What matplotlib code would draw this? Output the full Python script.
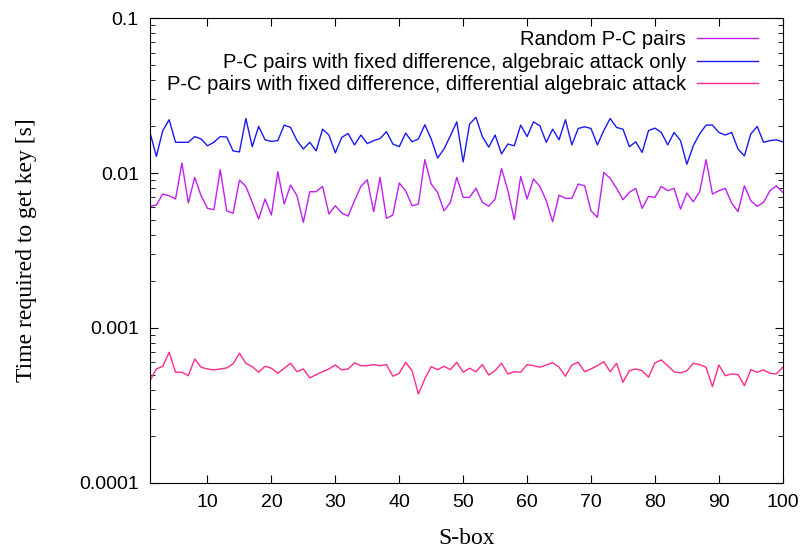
import numpy as np
import matplotlib.pyplot as plt

# S-box index
sbox = np.arange(1, 101)

# Zeit in Sekunden
t_random = [0.00610, 0.00622, 0.00732, 0.00714, 0.00680, 0.0116, 0.00641, 0.00938, 0.00714, 0.00592,
            0.00580, 0.0105, 0.00571, 0.00550, 0.00901, 0.00821, 0.00647, 0.00505, 0.00680, 0.00536,
            0.0102, 0.00631, 0.00837, 0.00714, 0.00481, 0.00758, 0.00758, 0.00821, 0.00544, 0.00615,
            0.00552, 0.00528, 0.00663, 0.00821, 0.00905, 0.00563, 0.00938, 0.00510, 0.00536, 0.00862,
            0.00769, 0.00615, 0.00631, 0.0122, 0.00849, 0.00751, 0.00571, 0.00647, 0.00938, 0.00697,
            0.00697, 0.00797, 0.00647, 0.00610, 0.00680, 0.0107, 0.00769, 0.00500, 0.00952, 0.00680,
            0.00915, 0.00821, 0.00663, 0.00485, 0.00720, 0.00687, 0.00687, 0.00849, 0.00828, 0.00571,
            0.00518, 0.0101, 0.00924, 0.00797, 0.00673, 0.00751, 0.00797, 0.00592, 0.00707, 0.00697,
            0.00821, 0.00769, 0.00797, 0.00586, 0.00743, 0.00653, 0.00758, 0.0122, 0.00732, 0.00769,
            0.00797, 0.00641, 0.00563, 0.00828, 0.00663, 0.00610, 0.00647, 0.00769, 0.00828, 0.00751]

t_fixed = [0.0183, 0.0128, 0.0188, 0.0221, 0.0158, 0.0158, 0.0158, 0.0172, 0.0166, 0.0150,
           0.0158, 0.0172, 0.0171, 0.0139, 0.0137, 0.0225, 0.0148, 0.0200, 0.0164, 0.0160,
           0.0162, 0.0204, 0.0197, 0.0162, 0.0143, 0.0158, 0.0139, 0.0192, 0.0176, 0.0135,
           0.0170, 0.0180, 0.0152, 0.0176, 0.0155, 0.0162, 0.0167, 0.0185, 0.0154, 0.0148,
           0.0181, 0.0159, 0.0166, 0.0205, 0.0166, 0.0125, 0.0143, 0.0174, 0.0214, 0.0118,
           0.0207, 0.0229, 0.0172, 0.0147, 0.0176, 0.0133, 0.0154, 0.0150, 0.0204, 0.0172,
           0.0214, 0.0202, 0.0158, 0.0192, 0.0164, 0.0221, 0.0152, 0.0194, 0.0199, 0.0194,
           0.0152, 0.0188, 0.0225, 0.0197, 0.0192, 0.0148, 0.0159, 0.0136, 0.0188, 0.0195,
           0.0183, 0.0152, 0.0183, 0.0162, 0.0114, 0.0150, 0.0179, 0.0204, 0.0204, 0.0183,
           0.0176, 0.0183, 0.0143, 0.0129, 0.0179, 0.0200, 0.0158, 0.0162, 0.0164, 0.0159]

t_diff = [0.000457, 0.000544, 0.000566, 0.000697, 0.000518, 0.000518, 0.000492, 0.000631, 0.000558, 0.000544,
          0.000536, 0.000544, 0.000552, 0.000586, 0.000687, 0.000592, 0.000563, 0.000518, 0.000566, 0.000550,
          0.000510, 0.000550, 0.000592, 0.000522, 0.000544, 0.000476, 0.000500, 0.000522, 0.000544, 0.000577,
          0.000536, 0.000544, 0.000595, 0.000571, 0.000571, 0.000580, 0.000571, 0.000580, 0.000488, 0.000510,
          0.000601, 0.000530, 0.000375, 0.000469, 0.000563, 0.000538, 0.000566, 0.000538, 0.000601, 0.000518,
          0.000550, 0.000522, 0.000580, 0.000497, 0.000530, 0.000592, 0.000505, 0.000522, 0.000518, 0.000580,
          0.000571, 0.000558, 0.000577, 0.000597, 0.000558, 0.000488, 0.000577, 0.000601, 0.000522, 0.000544,
          0.000571, 0.000606, 0.000522, 0.000592, 0.000446, 0.000530, 0.000544, 0.000530, 0.000481, 0.000595,
          0.000622, 0.000571, 0.000522, 0.000513, 0.000530, 0.000592, 0.000580, 0.000558, 0.000418, 0.000577,
          0.000492, 0.000505, 0.000500, 0.000424, 0.000538, 0.000518, 0.000536, 0.000510, 0.000505, 0.000558]

labels = ['Random P-C pairs',
          'P-C pairs with fixed difference, algebraic attack only',
          'P-C pairs with fixed difference, differential algebraic attack']
xticks = [10, 20, 30, 40, 50, 60, 70, 80, 90, 100]

fig = plt.figure(figsize=(8.02, 5.5), dpi=100)
ax = fig.add_axes([0.187, 0.122, 0.789, 0.845])

ax.plot(sbox, t_random, color='#c020f0', lw=1.0, label=labels[0])
ax.plot(sbox, t_fixed, color='#1a1aee', lw=1.0, label=labels[1])
ax.plot(sbox, t_diff, color='#ff2a90', lw=1.0, label=labels[2])

ax.set_yscale('log')
ax.set_xlim(1, 100)
ax.set_ylim(0.0001, 0.1)
ax.set_xticks(xticks)
ax.set_yticks([0.0001, 0.001, 0.01, 0.1])
ax.set_yticklabels(['0.0001', '0.001', '0.01', '0.1'])

ax.tick_params(which='both', direction='in', top=True, right=True, labelsize=14, pad=8)
ax.tick_params(which='major', length=6)
ax.tick_params(which='minor', length=3.5)
for lab in ax.get_xticklabels() + ax.get_yticklabels():
    lab.set_family('Liberation Sans')

ax.set_xlabel('S-box', family='Liberation Serif', fontsize=17, labelpad=12)
ax.set_ylabel('Time required to get key [s]', family='Liberation Serif', fontsize=17, labelpad=30)

leg = ax.legend(loc='upper right', bbox_to_anchor=(0.973, 0.991), frameon=False, markerfirst=False,
                handlelength=3.0, handletextpad=0.55, labelspacing=0.17, borderaxespad=0,
                prop={'family': 'Liberation Sans', 'size': 14.5})

plt.savefig('out.png')
